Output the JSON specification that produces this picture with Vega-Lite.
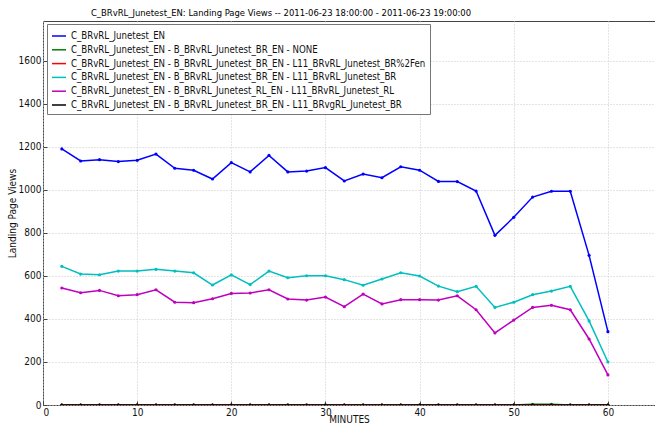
{
  "$schema": "https://vega.github.io/schema/vega-lite/v6.json",
  "width": 612,
  "height": 384,
  "autosize": {"type": "none"},
  "padding": {"left": 43, "top": 21, "right": 0, "bottom": 24},
  "config": {
    "font": "DejaVu Sans Condensed, Liberation Sans Narrow, DejaVu Sans",
    "view": {"stroke": "#444", "strokeWidth": 1},
    "axis": {
      "grid": true,
      "gridColor": "#c8c8c8",
      "gridDash": [1, 2],
      "gridWidth": 1,
      "domain": false,
      "tickColor": "#444",
      "tickSize": -4,
      "labelFontSize": 10,
      "labelColor": "#111",
      "titleFontSize": 10,
      "titleFontWeight": "normal",
      "titleColor": "#111"
    }
  },
  "title": {
    "text": "C_BRvRL_Junetest_EN:  Landing Page Views -- 2011-06-23 18:00:00 - 2011-06-23 19:00:00",
    "anchor": "middle",
    "dx": -68,
    "offset": 3,
    "fontSize": 9.4,
    "fontWeight": "normal",
    "color": "#000"
  },
  "data": {"values": [
    {"m":2,"s":"C_BRvRL_Junetest_EN","v":1191},{"m":4,"s":"C_BRvRL_Junetest_EN","v":1135},{"m":6,"s":"C_BRvRL_Junetest_EN","v":1141},{"m":8,"s":"C_BRvRL_Junetest_EN","v":1132},{"m":10,"s":"C_BRvRL_Junetest_EN","v":1138},{"m":12,"s":"C_BRvRL_Junetest_EN","v":1167},{"m":14,"s":"C_BRvRL_Junetest_EN","v":1101},{"m":16,"s":"C_BRvRL_Junetest_EN","v":1092},{"m":18,"s":"C_BRvRL_Junetest_EN","v":1051},{"m":20,"s":"C_BRvRL_Junetest_EN","v":1127},{"m":22,"s":"C_BRvRL_Junetest_EN","v":1084},{"m":24,"s":"C_BRvRL_Junetest_EN","v":1161},{"m":26,"s":"C_BRvRL_Junetest_EN","v":1084},{"m":28,"s":"C_BRvRL_Junetest_EN","v":1088},{"m":30,"s":"C_BRvRL_Junetest_EN","v":1104},{"m":32,"s":"C_BRvRL_Junetest_EN","v":1042},{"m":34,"s":"C_BRvRL_Junetest_EN","v":1074},{"m":36,"s":"C_BRvRL_Junetest_EN","v":1057},{"m":38,"s":"C_BRvRL_Junetest_EN","v":1108},{"m":40,"s":"C_BRvRL_Junetest_EN","v":1092},{"m":42,"s":"C_BRvRL_Junetest_EN","v":1040},{"m":44,"s":"C_BRvRL_Junetest_EN","v":1039},{"m":46,"s":"C_BRvRL_Junetest_EN","v":995},{"m":48,"s":"C_BRvRL_Junetest_EN","v":789},{"m":50,"s":"C_BRvRL_Junetest_EN","v":873},{"m":52,"s":"C_BRvRL_Junetest_EN","v":967},{"m":54,"s":"C_BRvRL_Junetest_EN","v":994},{"m":56,"s":"C_BRvRL_Junetest_EN","v":994},{"m":58,"s":"C_BRvRL_Junetest_EN","v":696},{"m":60,"s":"C_BRvRL_Junetest_EN","v":341},

    {"m":2,"s":"C_BRvRL_Junetest_EN - B_BRvRL_Junetest_BR_EN - NONE","v":0},{"m":4,"s":"C_BRvRL_Junetest_EN - B_BRvRL_Junetest_BR_EN - NONE","v":0},{"m":6,"s":"C_BRvRL_Junetest_EN - B_BRvRL_Junetest_BR_EN - NONE","v":0},{"m":8,"s":"C_BRvRL_Junetest_EN - B_BRvRL_Junetest_BR_EN - NONE","v":0},{"m":10,"s":"C_BRvRL_Junetest_EN - B_BRvRL_Junetest_BR_EN - NONE","v":0},{"m":12,"s":"C_BRvRL_Junetest_EN - B_BRvRL_Junetest_BR_EN - NONE","v":0},{"m":14,"s":"C_BRvRL_Junetest_EN - B_BRvRL_Junetest_BR_EN - NONE","v":0},{"m":16,"s":"C_BRvRL_Junetest_EN - B_BRvRL_Junetest_BR_EN - NONE","v":0},{"m":18,"s":"C_BRvRL_Junetest_EN - B_BRvRL_Junetest_BR_EN - NONE","v":0},{"m":20,"s":"C_BRvRL_Junetest_EN - B_BRvRL_Junetest_BR_EN - NONE","v":0},{"m":22,"s":"C_BRvRL_Junetest_EN - B_BRvRL_Junetest_BR_EN - NONE","v":0},{"m":24,"s":"C_BRvRL_Junetest_EN - B_BRvRL_Junetest_BR_EN - NONE","v":0},{"m":26,"s":"C_BRvRL_Junetest_EN - B_BRvRL_Junetest_BR_EN - NONE","v":0},{"m":28,"s":"C_BRvRL_Junetest_EN - B_BRvRL_Junetest_BR_EN - NONE","v":0},{"m":30,"s":"C_BRvRL_Junetest_EN - B_BRvRL_Junetest_BR_EN - NONE","v":0},{"m":32,"s":"C_BRvRL_Junetest_EN - B_BRvRL_Junetest_BR_EN - NONE","v":0},{"m":34,"s":"C_BRvRL_Junetest_EN - B_BRvRL_Junetest_BR_EN - NONE","v":0},{"m":36,"s":"C_BRvRL_Junetest_EN - B_BRvRL_Junetest_BR_EN - NONE","v":0},{"m":38,"s":"C_BRvRL_Junetest_EN - B_BRvRL_Junetest_BR_EN - NONE","v":0},{"m":40,"s":"C_BRvRL_Junetest_EN - B_BRvRL_Junetest_BR_EN - NONE","v":0},{"m":42,"s":"C_BRvRL_Junetest_EN - B_BRvRL_Junetest_BR_EN - NONE","v":0},{"m":44,"s":"C_BRvRL_Junetest_EN - B_BRvRL_Junetest_BR_EN - NONE","v":0},{"m":46,"s":"C_BRvRL_Junetest_EN - B_BRvRL_Junetest_BR_EN - NONE","v":0},{"m":48,"s":"C_BRvRL_Junetest_EN - B_BRvRL_Junetest_BR_EN - NONE","v":0},{"m":50,"s":"C_BRvRL_Junetest_EN - B_BRvRL_Junetest_BR_EN - NONE","v":0},{"m":52,"s":"C_BRvRL_Junetest_EN - B_BRvRL_Junetest_BR_EN - NONE","v":3},{"m":54,"s":"C_BRvRL_Junetest_EN - B_BRvRL_Junetest_BR_EN - NONE","v":3},{"m":56,"s":"C_BRvRL_Junetest_EN - B_BRvRL_Junetest_BR_EN - NONE","v":0},{"m":58,"s":"C_BRvRL_Junetest_EN - B_BRvRL_Junetest_BR_EN - NONE","v":0},{"m":60,"s":"C_BRvRL_Junetest_EN - B_BRvRL_Junetest_BR_EN - NONE","v":0},

    {"m":2,"s":"C_BRvRL_Junetest_EN - B_BRvRL_Junetest_BR_EN - L11_BRvRL_Junetest_BR%2Fen","v":0},{"m":4,"s":"C_BRvRL_Junetest_EN - B_BRvRL_Junetest_BR_EN - L11_BRvRL_Junetest_BR%2Fen","v":0},{"m":6,"s":"C_BRvRL_Junetest_EN - B_BRvRL_Junetest_BR_EN - L11_BRvRL_Junetest_BR%2Fen","v":0},{"m":8,"s":"C_BRvRL_Junetest_EN - B_BRvRL_Junetest_BR_EN - L11_BRvRL_Junetest_BR%2Fen","v":0},{"m":10,"s":"C_BRvRL_Junetest_EN - B_BRvRL_Junetest_BR_EN - L11_BRvRL_Junetest_BR%2Fen","v":0},{"m":12,"s":"C_BRvRL_Junetest_EN - B_BRvRL_Junetest_BR_EN - L11_BRvRL_Junetest_BR%2Fen","v":0},{"m":14,"s":"C_BRvRL_Junetest_EN - B_BRvRL_Junetest_BR_EN - L11_BRvRL_Junetest_BR%2Fen","v":0},{"m":16,"s":"C_BRvRL_Junetest_EN - B_BRvRL_Junetest_BR_EN - L11_BRvRL_Junetest_BR%2Fen","v":0},{"m":18,"s":"C_BRvRL_Junetest_EN - B_BRvRL_Junetest_BR_EN - L11_BRvRL_Junetest_BR%2Fen","v":0},{"m":20,"s":"C_BRvRL_Junetest_EN - B_BRvRL_Junetest_BR_EN - L11_BRvRL_Junetest_BR%2Fen","v":0},{"m":22,"s":"C_BRvRL_Junetest_EN - B_BRvRL_Junetest_BR_EN - L11_BRvRL_Junetest_BR%2Fen","v":0},{"m":24,"s":"C_BRvRL_Junetest_EN - B_BRvRL_Junetest_BR_EN - L11_BRvRL_Junetest_BR%2Fen","v":0},{"m":26,"s":"C_BRvRL_Junetest_EN - B_BRvRL_Junetest_BR_EN - L11_BRvRL_Junetest_BR%2Fen","v":0},{"m":28,"s":"C_BRvRL_Junetest_EN - B_BRvRL_Junetest_BR_EN - L11_BRvRL_Junetest_BR%2Fen","v":0},{"m":30,"s":"C_BRvRL_Junetest_EN - B_BRvRL_Junetest_BR_EN - L11_BRvRL_Junetest_BR%2Fen","v":0},{"m":32,"s":"C_BRvRL_Junetest_EN - B_BRvRL_Junetest_BR_EN - L11_BRvRL_Junetest_BR%2Fen","v":0},{"m":34,"s":"C_BRvRL_Junetest_EN - B_BRvRL_Junetest_BR_EN - L11_BRvRL_Junetest_BR%2Fen","v":0},{"m":36,"s":"C_BRvRL_Junetest_EN - B_BRvRL_Junetest_BR_EN - L11_BRvRL_Junetest_BR%2Fen","v":0},{"m":38,"s":"C_BRvRL_Junetest_EN - B_BRvRL_Junetest_BR_EN - L11_BRvRL_Junetest_BR%2Fen","v":0},{"m":40,"s":"C_BRvRL_Junetest_EN - B_BRvRL_Junetest_BR_EN - L11_BRvRL_Junetest_BR%2Fen","v":0},{"m":42,"s":"C_BRvRL_Junetest_EN - B_BRvRL_Junetest_BR_EN - L11_BRvRL_Junetest_BR%2Fen","v":0},{"m":44,"s":"C_BRvRL_Junetest_EN - B_BRvRL_Junetest_BR_EN - L11_BRvRL_Junetest_BR%2Fen","v":0},{"m":46,"s":"C_BRvRL_Junetest_EN - B_BRvRL_Junetest_BR_EN - L11_BRvRL_Junetest_BR%2Fen","v":0},{"m":48,"s":"C_BRvRL_Junetest_EN - B_BRvRL_Junetest_BR_EN - L11_BRvRL_Junetest_BR%2Fen","v":0},{"m":50,"s":"C_BRvRL_Junetest_EN - B_BRvRL_Junetest_BR_EN - L11_BRvRL_Junetest_BR%2Fen","v":0},{"m":52,"s":"C_BRvRL_Junetest_EN - B_BRvRL_Junetest_BR_EN - L11_BRvRL_Junetest_BR%2Fen","v":0},{"m":54,"s":"C_BRvRL_Junetest_EN - B_BRvRL_Junetest_BR_EN - L11_BRvRL_Junetest_BR%2Fen","v":0},{"m":56,"s":"C_BRvRL_Junetest_EN - B_BRvRL_Junetest_BR_EN - L11_BRvRL_Junetest_BR%2Fen","v":0},{"m":58,"s":"C_BRvRL_Junetest_EN - B_BRvRL_Junetest_BR_EN - L11_BRvRL_Junetest_BR%2Fen","v":0},{"m":60,"s":"C_BRvRL_Junetest_EN - B_BRvRL_Junetest_BR_EN - L11_BRvRL_Junetest_BR%2Fen","v":0},

    {"m":2,"s":"C_BRvRL_Junetest_EN - B_BRvRL_Junetest_BR_EN - L11_BRvRL_Junetest_BR","v":645},{"m":4,"s":"C_BRvRL_Junetest_EN - B_BRvRL_Junetest_BR_EN - L11_BRvRL_Junetest_BR","v":609},{"m":6,"s":"C_BRvRL_Junetest_EN - B_BRvRL_Junetest_BR_EN - L11_BRvRL_Junetest_BR","v":606},{"m":8,"s":"C_BRvRL_Junetest_EN - B_BRvRL_Junetest_BR_EN - L11_BRvRL_Junetest_BR","v":623},{"m":10,"s":"C_BRvRL_Junetest_EN - B_BRvRL_Junetest_BR_EN - L11_BRvRL_Junetest_BR","v":623},{"m":12,"s":"C_BRvRL_Junetest_EN - B_BRvRL_Junetest_BR_EN - L11_BRvRL_Junetest_BR","v":631},{"m":14,"s":"C_BRvRL_Junetest_EN - B_BRvRL_Junetest_BR_EN - L11_BRvRL_Junetest_BR","v":623},{"m":16,"s":"C_BRvRL_Junetest_EN - B_BRvRL_Junetest_BR_EN - L11_BRvRL_Junetest_BR","v":615},{"m":18,"s":"C_BRvRL_Junetest_EN - B_BRvRL_Junetest_BR_EN - L11_BRvRL_Junetest_BR","v":558},{"m":20,"s":"C_BRvRL_Junetest_EN - B_BRvRL_Junetest_BR_EN - L11_BRvRL_Junetest_BR","v":605},{"m":22,"s":"C_BRvRL_Junetest_EN - B_BRvRL_Junetest_BR_EN - L11_BRvRL_Junetest_BR","v":560},{"m":24,"s":"C_BRvRL_Junetest_EN - B_BRvRL_Junetest_BR_EN - L11_BRvRL_Junetest_BR","v":623},{"m":26,"s":"C_BRvRL_Junetest_EN - B_BRvRL_Junetest_BR_EN - L11_BRvRL_Junetest_BR","v":592},{"m":28,"s":"C_BRvRL_Junetest_EN - B_BRvRL_Junetest_BR_EN - L11_BRvRL_Junetest_BR","v":601},{"m":30,"s":"C_BRvRL_Junetest_EN - B_BRvRL_Junetest_BR_EN - L11_BRvRL_Junetest_BR","v":601},{"m":32,"s":"C_BRvRL_Junetest_EN - B_BRvRL_Junetest_BR_EN - L11_BRvRL_Junetest_BR","v":583},{"m":34,"s":"C_BRvRL_Junetest_EN - B_BRvRL_Junetest_BR_EN - L11_BRvRL_Junetest_BR","v":557},{"m":36,"s":"C_BRvRL_Junetest_EN - B_BRvRL_Junetest_BR_EN - L11_BRvRL_Junetest_BR","v":586},{"m":38,"s":"C_BRvRL_Junetest_EN - B_BRvRL_Junetest_BR_EN - L11_BRvRL_Junetest_BR","v":615},{"m":40,"s":"C_BRvRL_Junetest_EN - B_BRvRL_Junetest_BR_EN - L11_BRvRL_Junetest_BR","v":600},{"m":42,"s":"C_BRvRL_Junetest_EN - B_BRvRL_Junetest_BR_EN - L11_BRvRL_Junetest_BR","v":553},{"m":44,"s":"C_BRvRL_Junetest_EN - B_BRvRL_Junetest_BR_EN - L11_BRvRL_Junetest_BR","v":527},{"m":46,"s":"C_BRvRL_Junetest_EN - B_BRvRL_Junetest_BR_EN - L11_BRvRL_Junetest_BR","v":552},{"m":48,"s":"C_BRvRL_Junetest_EN - B_BRvRL_Junetest_BR_EN - L11_BRvRL_Junetest_BR","v":454},{"m":50,"s":"C_BRvRL_Junetest_EN - B_BRvRL_Junetest_BR_EN - L11_BRvRL_Junetest_BR","v":478},{"m":52,"s":"C_BRvRL_Junetest_EN - B_BRvRL_Junetest_BR_EN - L11_BRvRL_Junetest_BR","v":513},{"m":54,"s":"C_BRvRL_Junetest_EN - B_BRvRL_Junetest_BR_EN - L11_BRvRL_Junetest_BR","v":530},{"m":56,"s":"C_BRvRL_Junetest_EN - B_BRvRL_Junetest_BR_EN - L11_BRvRL_Junetest_BR","v":552},{"m":58,"s":"C_BRvRL_Junetest_EN - B_BRvRL_Junetest_BR_EN - L11_BRvRL_Junetest_BR","v":391},{"m":60,"s":"C_BRvRL_Junetest_EN - B_BRvRL_Junetest_BR_EN - L11_BRvRL_Junetest_BR","v":200},

    {"m":2,"s":"C_BRvRL_Junetest_EN - B_BRvRL_Junetest_RL_EN - L11_BRvRL_Junetest_RL","v":544},{"m":4,"s":"C_BRvRL_Junetest_EN - B_BRvRL_Junetest_RL_EN - L11_BRvRL_Junetest_RL","v":522},{"m":6,"s":"C_BRvRL_Junetest_EN - B_BRvRL_Junetest_RL_EN - L11_BRvRL_Junetest_RL","v":533},{"m":8,"s":"C_BRvRL_Junetest_EN - B_BRvRL_Junetest_RL_EN - L11_BRvRL_Junetest_RL","v":508},{"m":10,"s":"C_BRvRL_Junetest_EN - B_BRvRL_Junetest_RL_EN - L11_BRvRL_Junetest_RL","v":513},{"m":12,"s":"C_BRvRL_Junetest_EN - B_BRvRL_Junetest_RL_EN - L11_BRvRL_Junetest_RL","v":536},{"m":14,"s":"C_BRvRL_Junetest_EN - B_BRvRL_Junetest_RL_EN - L11_BRvRL_Junetest_RL","v":478},{"m":16,"s":"C_BRvRL_Junetest_EN - B_BRvRL_Junetest_RL_EN - L11_BRvRL_Junetest_RL","v":476},{"m":18,"s":"C_BRvRL_Junetest_EN - B_BRvRL_Junetest_RL_EN - L11_BRvRL_Junetest_RL","v":494},{"m":20,"s":"C_BRvRL_Junetest_EN - B_BRvRL_Junetest_RL_EN - L11_BRvRL_Junetest_RL","v":519},{"m":22,"s":"C_BRvRL_Junetest_EN - B_BRvRL_Junetest_RL_EN - L11_BRvRL_Junetest_RL","v":521},{"m":24,"s":"C_BRvRL_Junetest_EN - B_BRvRL_Junetest_RL_EN - L11_BRvRL_Junetest_RL","v":536},{"m":26,"s":"C_BRvRL_Junetest_EN - B_BRvRL_Junetest_RL_EN - L11_BRvRL_Junetest_RL","v":493},{"m":28,"s":"C_BRvRL_Junetest_EN - B_BRvRL_Junetest_RL_EN - L11_BRvRL_Junetest_RL","v":488},{"m":30,"s":"C_BRvRL_Junetest_EN - B_BRvRL_Junetest_RL_EN - L11_BRvRL_Junetest_RL","v":502},{"m":32,"s":"C_BRvRL_Junetest_EN - B_BRvRL_Junetest_RL_EN - L11_BRvRL_Junetest_RL","v":457},{"m":34,"s":"C_BRvRL_Junetest_EN - B_BRvRL_Junetest_RL_EN - L11_BRvRL_Junetest_RL","v":516},{"m":36,"s":"C_BRvRL_Junetest_EN - B_BRvRL_Junetest_RL_EN - L11_BRvRL_Junetest_RL","v":470},{"m":38,"s":"C_BRvRL_Junetest_EN - B_BRvRL_Junetest_RL_EN - L11_BRvRL_Junetest_RL","v":490},{"m":40,"s":"C_BRvRL_Junetest_EN - B_BRvRL_Junetest_RL_EN - L11_BRvRL_Junetest_RL","v":490},{"m":42,"s":"C_BRvRL_Junetest_EN - B_BRvRL_Junetest_RL_EN - L11_BRvRL_Junetest_RL","v":488},{"m":44,"s":"C_BRvRL_Junetest_EN - B_BRvRL_Junetest_RL_EN - L11_BRvRL_Junetest_RL","v":508},{"m":46,"s":"C_BRvRL_Junetest_EN - B_BRvRL_Junetest_RL_EN - L11_BRvRL_Junetest_RL","v":443},{"m":48,"s":"C_BRvRL_Junetest_EN - B_BRvRL_Junetest_RL_EN - L11_BRvRL_Junetest_RL","v":335},{"m":50,"s":"C_BRvRL_Junetest_EN - B_BRvRL_Junetest_RL_EN - L11_BRvRL_Junetest_RL","v":395},{"m":52,"s":"C_BRvRL_Junetest_EN - B_BRvRL_Junetest_RL_EN - L11_BRvRL_Junetest_RL","v":454},{"m":54,"s":"C_BRvRL_Junetest_EN - B_BRvRL_Junetest_RL_EN - L11_BRvRL_Junetest_RL","v":464},{"m":56,"s":"C_BRvRL_Junetest_EN - B_BRvRL_Junetest_RL_EN - L11_BRvRL_Junetest_RL","v":443},{"m":58,"s":"C_BRvRL_Junetest_EN - B_BRvRL_Junetest_RL_EN - L11_BRvRL_Junetest_RL","v":307},{"m":60,"s":"C_BRvRL_Junetest_EN - B_BRvRL_Junetest_RL_EN - L11_BRvRL_Junetest_RL","v":140},

    {"m":2,"s":"C_BRvRL_Junetest_EN - B_BRvRL_Junetest_BR_EN - L11_BRvgRL_Junetest_BR","v":0},{"m":4,"s":"C_BRvRL_Junetest_EN - B_BRvRL_Junetest_BR_EN - L11_BRvgRL_Junetest_BR","v":0},{"m":6,"s":"C_BRvRL_Junetest_EN - B_BRvRL_Junetest_BR_EN - L11_BRvgRL_Junetest_BR","v":0},{"m":8,"s":"C_BRvRL_Junetest_EN - B_BRvRL_Junetest_BR_EN - L11_BRvgRL_Junetest_BR","v":0},{"m":10,"s":"C_BRvRL_Junetest_EN - B_BRvRL_Junetest_BR_EN - L11_BRvgRL_Junetest_BR","v":0},{"m":12,"s":"C_BRvRL_Junetest_EN - B_BRvRL_Junetest_BR_EN - L11_BRvgRL_Junetest_BR","v":0},{"m":14,"s":"C_BRvRL_Junetest_EN - B_BRvRL_Junetest_BR_EN - L11_BRvgRL_Junetest_BR","v":0},{"m":16,"s":"C_BRvRL_Junetest_EN - B_BRvRL_Junetest_BR_EN - L11_BRvgRL_Junetest_BR","v":0},{"m":18,"s":"C_BRvRL_Junetest_EN - B_BRvRL_Junetest_BR_EN - L11_BRvgRL_Junetest_BR","v":0},{"m":20,"s":"C_BRvRL_Junetest_EN - B_BRvRL_Junetest_BR_EN - L11_BRvgRL_Junetest_BR","v":0},{"m":22,"s":"C_BRvRL_Junetest_EN - B_BRvRL_Junetest_BR_EN - L11_BRvgRL_Junetest_BR","v":0},{"m":24,"s":"C_BRvRL_Junetest_EN - B_BRvRL_Junetest_BR_EN - L11_BRvgRL_Junetest_BR","v":0},{"m":26,"s":"C_BRvRL_Junetest_EN - B_BRvRL_Junetest_BR_EN - L11_BRvgRL_Junetest_BR","v":0},{"m":28,"s":"C_BRvRL_Junetest_EN - B_BRvRL_Junetest_BR_EN - L11_BRvgRL_Junetest_BR","v":0},{"m":30,"s":"C_BRvRL_Junetest_EN - B_BRvRL_Junetest_BR_EN - L11_BRvgRL_Junetest_BR","v":0},{"m":32,"s":"C_BRvRL_Junetest_EN - B_BRvRL_Junetest_BR_EN - L11_BRvgRL_Junetest_BR","v":0},{"m":34,"s":"C_BRvRL_Junetest_EN - B_BRvRL_Junetest_BR_EN - L11_BRvgRL_Junetest_BR","v":0},{"m":36,"s":"C_BRvRL_Junetest_EN - B_BRvRL_Junetest_BR_EN - L11_BRvgRL_Junetest_BR","v":0},{"m":38,"s":"C_BRvRL_Junetest_EN - B_BRvRL_Junetest_BR_EN - L11_BRvgRL_Junetest_BR","v":0},{"m":40,"s":"C_BRvRL_Junetest_EN - B_BRvRL_Junetest_BR_EN - L11_BRvgRL_Junetest_BR","v":0},{"m":42,"s":"C_BRvRL_Junetest_EN - B_BRvRL_Junetest_BR_EN - L11_BRvgRL_Junetest_BR","v":0},{"m":44,"s":"C_BRvRL_Junetest_EN - B_BRvRL_Junetest_BR_EN - L11_BRvgRL_Junetest_BR","v":0},{"m":46,"s":"C_BRvRL_Junetest_EN - B_BRvRL_Junetest_BR_EN - L11_BRvgRL_Junetest_BR","v":0},{"m":48,"s":"C_BRvRL_Junetest_EN - B_BRvRL_Junetest_BR_EN - L11_BRvgRL_Junetest_BR","v":0},{"m":50,"s":"C_BRvRL_Junetest_EN - B_BRvRL_Junetest_BR_EN - L11_BRvgRL_Junetest_BR","v":0},{"m":52,"s":"C_BRvRL_Junetest_EN - B_BRvRL_Junetest_BR_EN - L11_BRvgRL_Junetest_BR","v":0},{"m":54,"s":"C_BRvRL_Junetest_EN - B_BRvRL_Junetest_BR_EN - L11_BRvgRL_Junetest_BR","v":0},{"m":56,"s":"C_BRvRL_Junetest_EN - B_BRvRL_Junetest_BR_EN - L11_BRvgRL_Junetest_BR","v":0},{"m":58,"s":"C_BRvRL_Junetest_EN - B_BRvRL_Junetest_BR_EN - L11_BRvgRL_Junetest_BR","v":0},{"m":60,"s":"C_BRvRL_Junetest_EN - B_BRvRL_Junetest_BR_EN - L11_BRvgRL_Junetest_BR","v":0}
  ]},
  "mark": {"type": "line", "strokeWidth": 1.5, "clip": true, "point": {"filled": true, "size": 10}},
  "encoding": {
    "x": {
      "field": "m", "type": "quantitative", "title": "MINUTES",
      "scale": {"domain": [0, 65], "nice": false, "zero": false},
      "axis": {"values": [0, 10, 20, 30, 40, 50, 60], "labelPadding": 6, "titlePadding": -3, "format": "d"}
    },
    "y": {
      "field": "v", "type": "quantitative", "title": "Landing Page Views",
      "scale": {"domain": [0, 1786], "nice": false},
      "axis": {"values": [0, 200, 400, 600, 800, 1000, 1200, 1400, 1600], "labelPadding": 6, "titlePadding": 1, "format": "d"}
    },
    "color": {
      "field": "s", "type": "nominal", "title": null,
      "scale": {
        "domain": [
          "C_BRvRL_Junetest_EN",
          "C_BRvRL_Junetest_EN - B_BRvRL_Junetest_BR_EN - NONE",
          "C_BRvRL_Junetest_EN - B_BRvRL_Junetest_BR_EN - L11_BRvRL_Junetest_BR%2Fen",
          "C_BRvRL_Junetest_EN - B_BRvRL_Junetest_BR_EN - L11_BRvRL_Junetest_BR",
          "C_BRvRL_Junetest_EN - B_BRvRL_Junetest_RL_EN - L11_BRvRL_Junetest_RL",
          "C_BRvRL_Junetest_EN - B_BRvRL_Junetest_BR_EN - L11_BRvgRL_Junetest_BR"
        ],
        "range": ["#0000ff", "#008000", "#ff0000", "#00bfbf", "#bf00bf", "#000000"]
      },
      "legend": {
        "orient": "none", "legendX": 4, "legendY": 3,
        "padding": 4, "strokeColor": "#777", "fillColor": "#ffffff",
        "symbolType": "stroke", "symbolSize": 196, "symbolStrokeWidth": 1.5,
        "labelFontSize": 9.6, "labelColor": "#111", "labelLimit": 0, "labelOffset": 4,
        "rowPadding": 0.8
      }
    }
  }
}
